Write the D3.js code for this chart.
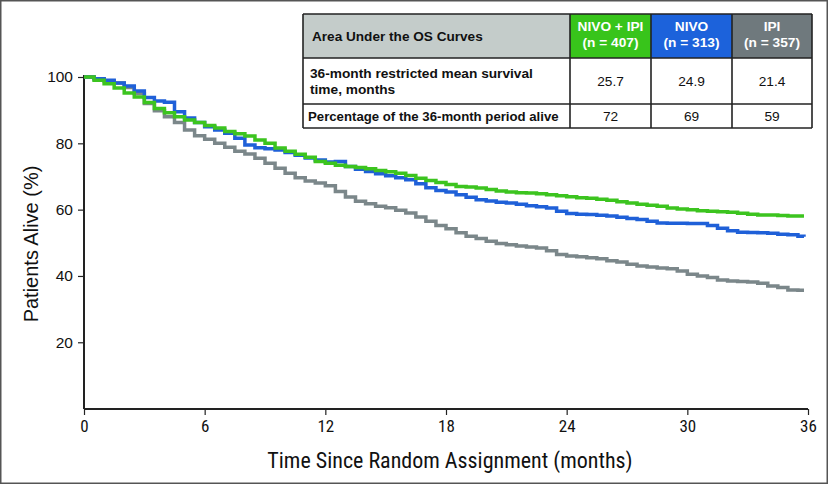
<!DOCTYPE html>
<html>
<head>
<meta charset="utf-8">
<script src="https://cdn.jsdelivr.net/npm/d3@7"></script>
<style>
  html, body { margin: 0; padding: 0; background: #fff; }
  svg { display: block; }
</style>
</head>
<body>
<svg id="chart" width="828" height="484"></svg>
<script>
// ---------- data ----------
const months = [0,0.5,1,1.5,2,2.5,3,3.5,4,4.5,5,5.5,6,6.5,7,7.5,8,8.5,9,9.5,10,10.5,11,11.5,12,12.5,13,13.5,14,14.5,15,15.5,16,16.5,17,17.5,18,18.5,19,19.5,20,20.5,21,21.5,22,22.5,23,23.5,24,24.5,25,25.5,26,26.5,27,27.5,28,28.5,29,29.5,30,30.5,31,31.5,32,32.5,33,33.5,34,34.5,35,35.5,35.8];
const nivoIpi = [100,99,98,96.7,95.2,94,92.3,90.5,89.2,88,87,86.3,85.4,84.6,83.6,82.9,82.2,81,80,78.6,77.6,76.7,75.8,74.5,74,73.4,73,72.7,72.3,71.8,71.4,71,70.3,69.5,68.8,68.2,67.6,67,66.8,66.5,66.1,65.6,65.3,65.1,65,64.8,64.5,64.2,63.9,63.6,63.4,63.1,62.8,62.4,62,61.6,61.3,61,60.5,60.2,60,59.7,59.5,59.4,59.2,58.9,58.6,58.4,58.4,58.2,58.1,58.1,58.1];
const nivo = [100,99.5,99,98.2,97.3,95.8,93.8,92.8,92.4,89.5,87.6,86.3,85,84,83,81.5,79.5,78.7,78.4,78,77.2,76.4,75.6,75,74.4,74.5,73,72.2,71.5,70.8,70.2,69.6,69,67.8,66.6,65.8,65.3,64.5,63.7,63,62.6,62.2,62,61.6,61.2,60.9,60.5,59.5,58.8,58.6,58.5,58.3,58.1,57.7,57.3,57,56.5,56,55.9,55.9,55.8,55.8,55.2,54.4,53.6,53.2,53.1,53,52.9,52.6,52.4,52,51.8];
const ipi = [100,99.5,98.8,98.2,96.8,95,92,89.8,88,86.3,84,82.3,81.2,80,78.8,77.6,76.8,75.5,74,72.5,71,69.6,68.6,68,67.2,65.5,63.8,62.5,61.8,61,60.6,59.8,59,57.8,56.5,55.2,54.2,53,52,51.3,50.5,49.8,49.4,49,48.7,48.4,47.6,46.5,46,45.8,45.5,45.2,44.6,44.2,43.5,43,42.7,42.4,42.2,41.5,40.5,40,39.5,38.8,38.5,38.3,38.2,37.8,37,36.5,35.8,35.7,35.7];

const xTicks = [0,6,12,18,24,30,36];
const yTicks = [20,40,60,80,100];

const tableHeader = ["Area Under the OS Curves", "NIVO + IPI|(n = 407)", "NIVO|(n = 313)", "IPI|(n = 357)"];
const rowLabels = ["36-month restricted mean survival|time, months", "Percentage of the 36-month period alive"];
const rmstValues = ["25.7", "24.9", "21.4"];
const pctAliveValues = ["72", "69", "59"];

const seriesNames = ["IPI", "NIVO", "NIVO + IPI"];
const seriesColors = ["#7b878a", "#1f60d8", "#3cc41f"];
const headerColors = ["#c4ccca", "#38c41b", "#1c62db", "#6f797d"];

// ---------- chart ----------
const svg = d3.select("#chart");
svg.append("rect").attr("x", 0.75).attr("y", 0.75).attr("width", 826.5).attr("height", 482.5)
  .attr("fill", "#fff").attr("stroke", "#555").attr("stroke-width", 1.5);

const x = d3.scaleLinear().domain([0, 36]).range([84, 808]);
const y = d3.scaleLinear().domain([0, 100]).range([408.6, 77]);

const narrow = "'Liberation Sans Narrow', 'Arial Narrow', 'Roboto Condensed', sans-serif";
const sans = "'Liberation Sans', Arial, Helvetica, sans-serif";

// x axis
const xAxis = svg.append("g").attr("transform", "translate(0,409)")
  .call(d3.axisBottom(x).tickValues(xTicks).tickSize(6).tickPadding(5).tickFormat(d3.format("d")));
xAxis.select(".domain").attr("d", "M84,0H808").attr("stroke", "#222").attr("stroke-width", 2);
xAxis.selectAll(".tick line").attr("stroke", "#222").attr("stroke-width", 1.2);
xAxis.selectAll(".tick text").attr("font-family", narrow).attr("font-size", 17).attr("fill", "#111");

// y axis
const yAxis = svg.append("g").attr("transform", "translate(84,0)")
  .call(d3.axisLeft(y).tickValues(yTicks).tickSize(6).tickPadding(5).tickFormat(d3.format("d")));
yAxis.select(".domain").attr("d", "M0,75V409").attr("stroke", "#222").attr("stroke-width", 2);
yAxis.selectAll(".tick line").attr("stroke", "#222").attr("stroke-width", 1.2);
yAxis.selectAll(".tick text").attr("font-family", sans).attr("font-size", 15.5).attr("fill", "#111");

// axis titles
svg.append("text").attr("x", 450).attr("y", 468).attr("text-anchor", "middle")
  .attr("font-family", narrow).attr("font-size", 22).attr("fill", "#111")
  .text("Time Since Random Assignment (months)");
svg.append("text").attr("transform", "translate(38,244) rotate(-90)").attr("text-anchor", "middle")
  .attr("font-family", sans).attr("font-size", 20).attr("fill", "#111")
  .text("Patients Alive (%)");

// curves
const allSeries = [ipi, nivo, nivoIpi];
const line = d3.line().curve(d3.curveStepAfter).x((d, i) => x(months[i])).y(d => y(d));
allSeries.forEach((s, k) => {
  svg.append("path").datum(s).attr("d", line).attr("fill", "none")
    .attr("stroke", seriesColors[k]).attr("stroke-width", 3.5)
    .attr("data-name", seriesNames[k]);
});

// ---------- table ----------
const colX = [303, 570, 651, 732, 812];
const rowY = [14, 58, 104, 128];
const tbl = svg.append("g");
for (let c = 0; c < 4; c++) {
  tbl.append("rect").attr("x", colX[c]).attr("y", rowY[0]).attr("width", colX[c+1]-colX[c])
    .attr("height", rowY[1]-rowY[0]).attr("fill", headerColors[c]);
}
tbl.append("rect").attr("x", colX[0]).attr("y", rowY[1]).attr("width", colX[4]-colX[0])
  .attr("height", rowY[3]-rowY[1]).attr("fill", "#fff");
rowY.forEach(yy => tbl.append("line").attr("x1", colX[0]).attr("x2", colX[4]).attr("y1", yy).attr("y2", yy)
  .attr("stroke", "#222").attr("stroke-width", 1.6));
colX.forEach(xx => tbl.append("line").attr("x1", xx).attr("x2", xx).attr("y1", rowY[0]).attr("y2", rowY[3])
  .attr("stroke", "#222").attr("stroke-width", 1.6));

function multiText(g, txt, xx, yc, anchor, opts) {
  const lines = txt.split("|");
  const lh = opts.lh || 15;
  const t = g.append("text").attr("text-anchor", anchor).attr("font-family", sans)
    .attr("font-size", opts.size || 13.7).attr("font-weight", opts.weight || "normal")
    .attr("fill", opts.fill || "#111");
  const y0 = yc - (lines.length - 1) * lh / 2 + 5;
  lines.forEach((l, i) => t.append("tspan").attr("x", xx).attr("y", y0 + i * lh).text(l));
}

multiText(tbl, tableHeader[0], 312, (rowY[0]+rowY[1])/2, "start", {weight: "bold", size: 13.6});
for (let c = 1; c < 4; c++) {
  multiText(tbl, tableHeader[c], (colX[c]+colX[c+1])/2, (rowY[0]+rowY[1])/2 - 2, "middle",
    {weight: "bold", size: 13.7, fill: "#fff", lh: 16});
}
multiText(tbl, rowLabels[0], 310, (rowY[1]+rowY[2])/2, "start", {weight: "bold", size: 13.7, lh: 16});
multiText(tbl, rowLabels[1], 308, (rowY[2]+rowY[3])/2, "start", {weight: "bold", size: 13.2});
rmstValues.forEach((v, i) => multiText(tbl, v, (colX[i+1]+colX[i+2])/2, (rowY[1]+rowY[2])/2, "middle", {size: 13.7}));
pctAliveValues.forEach((v, i) => multiText(tbl, v, (colX[i+1]+colX[i+2])/2, (rowY[2]+rowY[3])/2, "middle", {size: 13.7}));
</script>
</body>
</html>
